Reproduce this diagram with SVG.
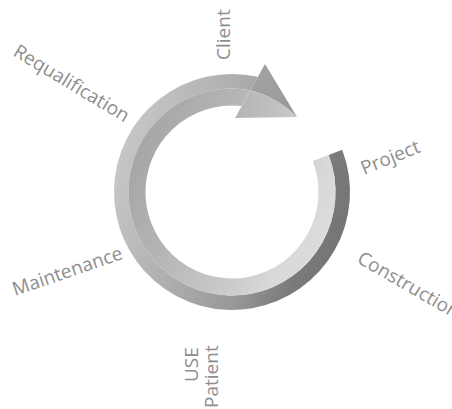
<svg xmlns="http://www.w3.org/2000/svg" width="452" height="409" viewBox="0 0 452 409">
  <defs>
    <linearGradient id="gOuter" gradientUnits="userSpaceOnUse" x1="115" y1="150" x2="350" y2="230">
      <stop offset="0" stop-color="#c8c8c8"/>
      <stop offset="0.35" stop-color="#b0b0b0"/>
      <stop offset="0.65" stop-color="#989898"/>
      <stop offset="0.85" stop-color="#7a7a7a"/>
      <stop offset="1" stop-color="#747474"/>
    </linearGradient>
    <linearGradient id="gInner" gradientUnits="userSpaceOnUse" x1="140" y1="140" x2="330" y2="230">
      <stop offset="0" stop-color="#a6a6a6"/>
      <stop offset="0.3" stop-color="#b4b4b4"/>
      <stop offset="0.7" stop-color="#cccccc"/>
      <stop offset="0.85" stop-color="#d8d8d8"/>
      <stop offset="1" stop-color="#dcdcdc"/>
    </linearGradient>
    <linearGradient id="gHeadUp" gradientUnits="userSpaceOnUse" x1="250" y1="80" x2="297" y2="117">
      <stop offset="0" stop-color="#a2a2a2"/>
      <stop offset="1" stop-color="#989898"/>
    </linearGradient>
    <linearGradient id="gHeadLow" gradientUnits="userSpaceOnUse" x1="240" y1="110" x2="297" y2="117">
      <stop offset="0" stop-color="#b6b6b6"/>
      <stop offset="1" stop-color="#c8c8c8"/>
    </linearGradient>
  </defs>
  <style>
    .lbl { font-family: "Open Sans", "DejaVu Sans", sans-serif; font-size: 19px; fill: #8e8e8e; }
  </style>

  <g id="cycle-arrow">
    <path id="ring-outer" fill="url(#gOuter)" d="M257.85,76.87 A118,118 0 1 0 342.16,149.71 L328.63,154.91 A103.5,103.5 0 1 1 250.46,90.16 Z"/>
    <path id="ring-inner" fill="url(#gInner)" d="M250.46,90.16 A103.5,103.5 0 1 0 328.63,154.91 L312.75,161.0 A86.5,86.5 0 1 1 241.64,106.05 Z"/>
    <path id="head-upper" fill="url(#gHeadUp)" d="M265,64 L297,117 A103.5,103.5 0 0 0 250.46,90.16 Z"/>
    <path id="head-lower" fill="url(#gHeadLow)" d="M250.46,90.16 A103.5,103.5 0 0 1 297,117 L235,118 Z"/>
  </g>

  <g id="labels">
    <g id="client"><text class="lbl" transform="translate(230,60) rotate(-90)">Client</text></g>
    <g id="requalification"><text class="lbl" transform="translate(12,55) rotate(31)">Requalification</text></g>
    <g id="project"><text class="lbl" transform="translate(364,175) rotate(-22)">Project</text></g>
    <g id="construction"><text class="lbl" transform="translate(356,262) rotate(30)">Construction</text></g>
    <g id="maintenance"><text class="lbl" transform="translate(15,296) rotate(-19)">Maintenance</text></g>
    <g id="use"><text class="lbl" transform="translate(198,382) rotate(-90)">USE</text></g>
    <g id="patient"><text class="lbl" transform="translate(218,408) rotate(-90)">Patient</text></g>
  </g>
</svg>
